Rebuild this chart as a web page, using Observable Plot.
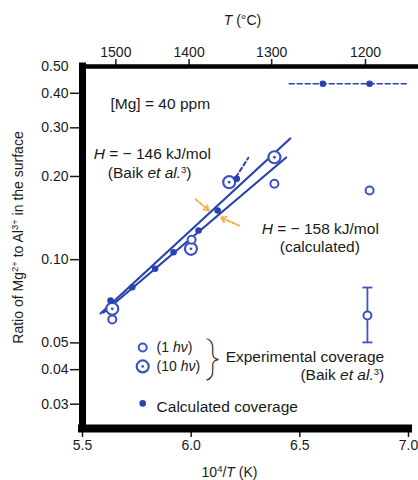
<!DOCTYPE html>
<html>
<head>
<meta charset="utf-8">
<script src="https://cdn.jsdelivr.net/npm/d3@7"></script>
<script src="https://cdn.jsdelivr.net/npm/@observablehq/plot@0.6"></script>
<style>
  html, body { margin: 0; padding: 0; background: #fff; }
  #chart svg { display: block; }
</style>
</head>
<body>
<div id="chart"></div>
<script>
// ---- data ----
const xTicks = [5.5, 6.0, 6.5, 7.0];
const yTicks = [0.03, 0.04, 0.05, 0.10, 0.20, 0.30, 0.40, 0.50];
const topTicksC = [1500, 1400, 1300, 1200];

// calculated coverage (filled dots)
const calcX = [5.629, 5.729, 5.834, 5.919, 6.034, 6.122, 6.210, 6.606, 6.821];
const calcY = [0.0712, 0.0795, 0.0927, 0.1064, 0.1275, 0.1507, 0.1962, 0.433, 0.433];

// experimental coverage, 1 hv (small rings)
const exp1X = [5.637, 6.002, 6.383, 6.821, 6.811];
const exp1Y = [0.0608, 0.1180, 0.1882, 0.1779, 0.0628];

// experimental coverage, 10 hv (large rings)
const exp10X = [5.637, 5.999, 6.175, 6.383];
const exp10Y = [0.0664, 0.1095, 0.1907, 0.2348];

// error bar
const errX = [6.811];
const errLo = [0.0502];
const errHi = [0.0793];

// fitted lines
const lineAX = [5.583, 6.456];   // H = -146 kJ/mol (Baik et al.)
const lineAY = [0.0639, 0.2744];
const lineBX = [5.597, 6.437];   // H = -158 kJ/mol (calculated)
const lineBY = [0.0644, 0.2342];
const dashSegX = [6.206, 6.263];
const dashSegY = [0.1989, 0.2337];
const hDashX = [6.451, 7.0];
const hDashY = [0.433, 0.433];

// orange pointer arrows
const arrowX1 = [6.022, 6.220];
const arrowY1 = [0.1651, 0.1329];
const arrowX2 = [6.081, 6.137];
const arrowY2 = [0.1507, 0.1421];

// annotations
const noteText = ["[Mg] = 40 ppm", "_H_ = − 146 kJ/mol", "(Baik _et al._^3^)", "_H_ = − 158 kJ/mol", "(calculated)"];
const noteX = [5.629, 5.821, 5.809, 6.594, 6.592];
const noteY = [0.367, 0.2402, 0.2051, 0.1286, 0.1107];
const noteAnchor = ["start", "middle", "middle", "middle", "middle"];

// legend
const legRingX = [5.777, 5.777];
const legRingY = [0.0481, 0.0411];
const legDotX = [5.777];
const legDotY = [0.0302];
const legSymText = ["(1 _hν_)", "(10 _hν_)"];
const legSymTextX = [5.841, 5.841];
const legSymTextY = [0.0481, 0.0411];
const legCalcText = ["Calculated coverage"];
const legCalcX = [5.841];
const legCalcY = [0.0292];
const legRightText = ["Experimental coverage", "(Baik _et al._^3^)"];
const legRightX = [6.888, 6.888];
const legRightY = [0.0443, 0.0381];
const braceX = [6.100];
const braceY = [0.0437];

// ---- drawing ----
const blue = "#2843b0";
const ring = "#3a54c2";
const ink = "#1a1a1a";
const yMin = 0.0245, yMax = 0.5;
const noteSize = 15.5;

const pts = (xs, ys) => xs.map((x, i) => ({x, y: ys[i]}));
const capSymbol = {
  draw(ctx, size) {
    const w = Math.sqrt(size / Math.PI);
    ctx.moveTo(-w, 0); ctx.lineTo(w, 0);
  }
};

const chart = Plot.plot({
  width: 418,
  height: 480,
  marginTop: 66,
  marginRight: 10,
  marginBottom: 52,
  marginLeft: 82,
  style: {fontFamily: "'Liberation Sans', Arial, Helvetica, sans-serif", fontSize: "14px", color: ink, background: "#fff"},
  x: {type: "linear", domain: [5.5, 7.0]},
  y: {type: "log", domain: [yMin, yMax]},
  marks: [
    // axes
    Plot.axisX({anchor: "bottom", ticks: xTicks, tickSize: 9, tickPadding: 3, tickFormat: d3.format(".1f"), label: null, strokeWidth: 1.5}),
    Plot.axisX({anchor: "top", ticks: topTicksC.map(c => 1e4 / (c + 273.15)), tickSize: 8, tickPadding: 2, dx: 3,
                tickFormat: d => String(Math.round(1e4 / d - 273.15)), label: null, strokeWidth: 1.5}),
    Plot.axisY({ticks: yTicks, tickSize: 0, tickPadding: 14, tickFormat: d3.format(".2f"), label: null}),
    Plot.axisY({ticks: yTicks.filter(d => d < 0.5), tickSize: 12, tickFormat: () => "", label: null, strokeWidth: 1.5}),
    // frame
    Plot.ruleX([5.5], {y1: yMin, y2: yMax, stroke: "#000", strokeWidth: 7, strokeLinecap: "square"}),
    Plot.ruleY([yMin], {x1: 5.5, x2: 7.0, stroke: "#000", strokeWidth: 8, strokeLinecap: "square"}),
    Plot.ruleY([yMax], {x1: 5.5, x2: 7.046, stroke: "#000", strokeWidth: 4.5}),
    // fitted lines
    Plot.line(pts(lineAX, lineAY), {x: "x", y: "y", stroke: blue, strokeWidth: 2.2}),
    Plot.line(pts(lineBX, lineBY), {x: "x", y: "y", stroke: blue, strokeWidth: 2.2}),
    Plot.line(pts(dashSegX, dashSegY), {x: "x", y: "y", stroke: blue, strokeWidth: 2, strokeDasharray: "4,3"}),
    Plot.line(pts(hDashX, hDashY), {x: "x", y: "y", stroke: blue, strokeWidth: 1.6, strokeDasharray: "5,3"}),
    // orange pointers
    Plot.arrow(arrowX1.map((x, i) => ({x1: x, y1: arrowY1[i], x2: arrowX2[i], y2: arrowY2[i]})),
      {x1: "x1", y1: "y1", x2: "x2", y2: "y2", stroke: "#f2b04a", strokeWidth: 2, strokeDasharray: "3,2", headLength: 4, bend: 0}),
    // error bar
    Plot.ruleX(errX.map((x, i) => ({x, y1: errLo[i], y2: errHi[i]})), {x: "x", y1: "y1", y2: "y2", stroke: ring, strokeWidth: 1.8}),
    Plot.dot(pts(errX.concat(errX), errLo.concat(errHi)), {x: "x", y: "y", symbol: capSymbol, r: 5, stroke: ring, strokeWidth: 1.8, fill: "none"}),
    // data points
    Plot.dot(pts(exp10X, exp10Y), {x: "x", y: "y", r: 6, stroke: ring, strokeWidth: 2.2, fill: "#fff"}),
    Plot.dot(pts(exp10X, exp10Y), {x: "x", y: "y", r: 1.4, fill: ring}),
    Plot.dot(pts(exp1X, exp1Y), {x: "x", y: "y", r: 4, stroke: ring, strokeWidth: 2, fill: "#fff"}),
    Plot.dot(pts(calcX, calcY), {x: "x", y: "y", r: 3.3, fill: blue, stroke: "none"}),
    // annotations
    Plot.text(noteText.map((t, i) => ({t, x: noteX[i], y: noteY[i], a: noteAnchor[i]})).filter(d => d.a === "start"),
      {x: "x", y: "y", text: "t", textAnchor: "start", fill: ink, fontSize: noteSize}),
    Plot.text(noteText.map((t, i) => ({t, x: noteX[i], y: noteY[i], a: noteAnchor[i]})).filter(d => d.a === "middle"),
      {x: "x", y: "y", text: "t", textAnchor: "middle", fill: ink, fontSize: noteSize}),
    // legend
    Plot.dot(pts([legRingX[0]], [legRingY[0]]), {x: "x", y: "y", r: 4, stroke: ring, strokeWidth: 2, fill: "#fff"}),
    Plot.dot(pts([legRingX[1]], [legRingY[1]]), {x: "x", y: "y", r: 6, stroke: ring, strokeWidth: 2.2, fill: "#fff"}),
    Plot.dot(pts([legRingX[1]], [legRingY[1]]), {x: "x", y: "y", r: 1.4, fill: ring}),
    Plot.dot(pts(legDotX, legDotY), {x: "x", y: "y", r: 3.3, fill: blue}),
    Plot.text(legSymText.map((t, i) => ({t, x: legSymTextX[i], y: legSymTextY[i]})), {x: "x", y: "y", text: "t", textAnchor: "start", fill: ink, fontSize: 14}),
    Plot.text(legCalcText.map((t, i) => ({t, x: legCalcX[i], y: legCalcY[i]})), {x: "x", y: "y", text: "t", textAnchor: "start", fill: ink, fontSize: noteSize}),
    Plot.text(legRightText.map((t, i) => ({t, x: legRightX[i], y: legRightY[i]})), {x: "x", y: "y", text: "t", textAnchor: "end", fill: ink, fontSize: noteSize}),
    Plot.text(pts(braceX, braceY), {x: "x", y: "y", text: () => "}", fontSize: 42, fontWeight: 100, fontFamily: "Roboto, Lato, sans-serif", fill: ink, textAnchor: "middle"}),
    // axis titles
    Plot.text([0], {frameAnchor: "top", text: () => "_T_ (°C)", dy: -46, dx: -3, textAnchor: "middle", lineAnchor: "middle", fill: ink}),
    Plot.text([0], {frameAnchor: "bottom", text: () => "10^4^/_T_ (K)", dy: 44, dx: -16, textAnchor: "middle", lineAnchor: "middle", fill: ink}),
    Plot.text([0], {frameAnchor: "left", text: () => "Ratio of Mg^2+^ to Al^3+^ in the surface", rotate: -90, dx: -64, dy: -10, textAnchor: "middle", lineAnchor: "middle", fill: ink})
  ]
});

// rich text: _italic_ and ^superscript^
function richify(svg) {
  const NS = "http://www.w3.org/2000/svg";
  svg.querySelectorAll("text").forEach(t => {
    if (t.querySelector("tspan")) return;
    const s = t.textContent;
    if (!/[_^]/.test(s)) return;
    const parts = s.split(/(_[^_]+_|\^[^^]+\^)/).filter(p => p !== "");
    t.textContent = "";
    let raised = false;
    for (const p of parts) {
      const ts = document.createElementNS(NS, "tspan");
      if (p[0] === "_" && p.length > 1 && p.endsWith("_")) {
        ts.textContent = p.slice(1, -1);
        ts.setAttribute("font-style", "italic");
        if (raised) { ts.setAttribute("dy", "5"); raised = false; }
      } else if (p[0] === "^" && p.length > 1 && p.endsWith("^")) {
        ts.textContent = p.slice(1, -1);
        ts.setAttribute("font-size", "9.5");
        ts.setAttribute("dy", "-5");
        raised = true;
      } else {
        ts.textContent = p;
        if (raised) { ts.setAttribute("dy", "5"); raised = false; }
      }
      t.appendChild(ts);
    }
  });
}
richify(chart);
document.getElementById("chart").appendChild(chart);
</script>
</body>
</html>
